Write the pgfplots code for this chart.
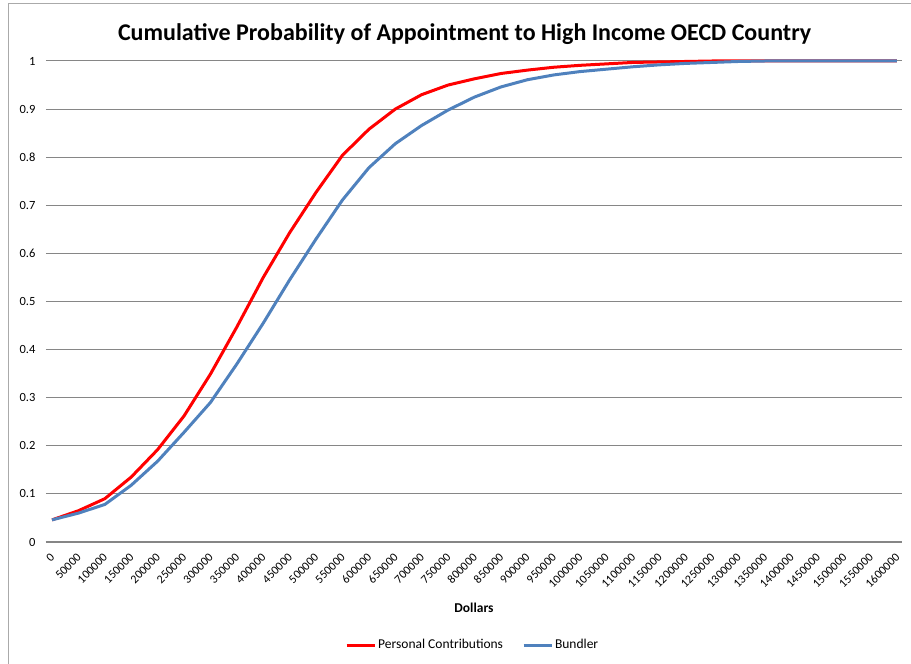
\documentclass[border=0pt]{standalone}
\usepackage{fontspec}
\setmainfont{Carlito}
\usepackage{pgfplots}
\pgfplotsset{compat=1.18}
\definecolor{exred}{RGB}{255,0,0}
\definecolor{exblue}{RGB}{79,129,189}
\definecolor{gridgray}{RGB}{134,134,134}
\begin{document}
\begin{tikzpicture}[x=1pt,y=1pt]
\useasboundingbox (0,0) rectangle (911,664);
\begin{axis}[
  at={(46pt,122pt)}, anchor=south west,
  scale only axis, width=856pt, height=481pt,
  xmin=-0.227, xmax=32.19, ymin=0, ymax=1,
  axis line style={draw=none},
  major tick length=0pt,
  ymajorgrids, grid style={gridgray, line width=1pt},
  ytick={0,0.1,0.2,0.3,0.4,0.5,0.6,0.7,0.8,0.9,1},
  yticklabels={0,0.1,0.2,0.3,0.4,0.5,0.6,0.7,0.8,0.9,1},
  yticklabel style={font=\fontsize{12.5}{14}\selectfont, xshift=-7pt},
  xtick={0,...,32},
  xticklabels={0,50000,100000,150000,200000,250000,300000,350000,400000,450000,500000,550000,600000,650000,700000,750000,800000,850000,900000,950000,1000000,1050000,1100000,1150000,1200000,1250000,1300000,1350000,1400000,1450000,1500000,1550000,1600000},
  xticklabel style={font=\fontsize{12}{14}\selectfont, xshift=3pt, yshift=-11pt, rotate=45, anchor=east},
  xlabel={\textbf{Dollars}},
  xlabel style={font=\fontsize{13.5}{15}\selectfont, at={(axis description cs:0.5,0)}, anchor=center, yshift=-66pt},
  title={\textbf{Cumulative Probability of Appointment to High Income OECD Country}},
  title style={font=\fontsize{24}{28}\selectfont, at={(axis description cs:0.489,1)}, anchor=center, yshift=21pt},
  legend columns=2,
  legend style={draw=none, fill=none, font=\fontsize{13.5}{15}\selectfont, at={(axis description cs:0.4985,0)}, anchor=center, yshift=-103pt, /tikz/every even column/.append style={column sep=17pt}},
  legend image code/.code={\draw[#1, line width=3pt] (0pt,0pt) -- (28pt,0pt);},
  clip=false,
]
\addplot[exred, line width=3pt] coordinates {
(0,0.046)(1,0.065)(2,0.090)(3,0.135)(4,0.192)(5,0.262)(6,0.349)(7,0.447)(8,0.550)(9,0.643)(10,0.727)(11,0.804)(12,0.858)(13,0.900)(14,0.930)(15,0.950)(16,0.963)(17,0.974)(18,0.981)(19,0.987)(20,0.991)(21,0.994)(22,0.997)(23,0.998)(24,0.999)(25,1.0)(26,1.0)(27,1.0)(28,1.0)(29,1.0)(30,1.0)(31,1.0)(32,1.0)};
\addlegendentry{Personal Contributions}
\addplot[exblue, line width=3pt] coordinates {
(0,0.046)(1,0.060)(2,0.078)(3,0.118)(4,0.168)(5,0.228)(6,0.290)(7,0.370)(8,0.455)(9,0.545)(10,0.630)(11,0.711)(12,0.778)(13,0.828)(14,0.866)(15,0.898)(16,0.925)(17,0.946)(18,0.961)(19,0.971)(20,0.978)(21,0.983)(22,0.988)(23,0.992)(24,0.995)(25,0.997)(26,0.999)(27,1.0)(28,1.0)(29,1.0)(30,1.0)(31,1.0)(32,1.0)};
\addlegendentry{Bundler}
\draw[gridgray, line width=2pt] (rel axis cs:0,0) -- (rel axis cs:1,0);
\end{axis}
\draw[gridgray!70, line width=1pt] (8,0) -- (8,660) -- (911,660);
\end{tikzpicture}
\end{document}
